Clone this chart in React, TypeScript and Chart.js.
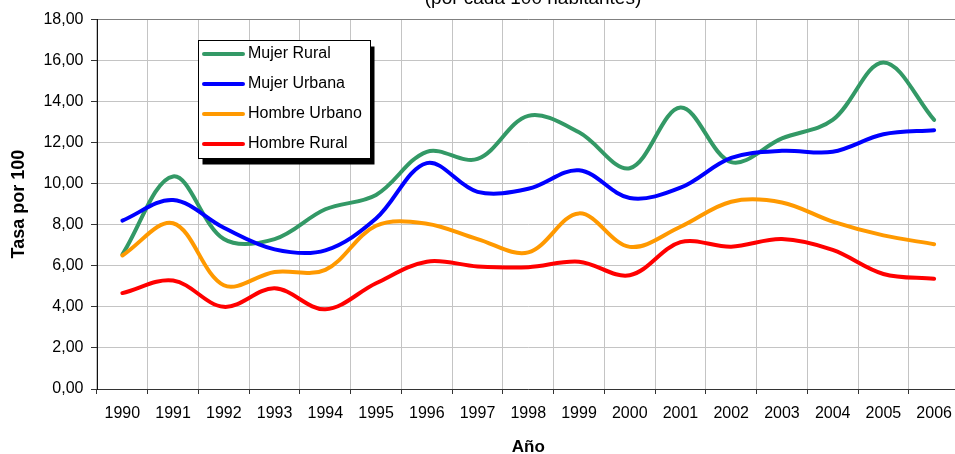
import React, { useEffect, useRef } from 'react';
import { Chart, registerables } from 'chart.js';

Chart.register(...registerables);

// ---- Data ----
const YEARS = ['1990', '1991', '1992', '1993', '1994', '1995', '1996', '1997', '1998', '1999', '2000', '2001', '2002', '2003', '2004', '2005', '2006'];
const MUJER_RURAL = [6.55, 10.35, 7.3, 7.3, 8.75, 9.45, 11.55, 11.2, 13.3, 12.5, 10.75, 13.7, 11.05, 12.2, 13.1, 15.9, 13.1];
const MUJER_URBANA = [8.2, 9.2, 7.85, 6.8, 6.75, 8.3, 11.0, 9.6, 9.75, 10.65, 9.3, 9.8, 11.25, 11.6, 11.55, 12.4, 12.6];
const HOMBRE_URBANO = [6.5, 8.07, 5.05, 5.7, 5.8, 7.95, 8.05, 7.3, 6.65, 8.55, 6.92, 7.9, 9.12, 9.08, 8.15, 7.48, 7.05];
const HOMBRE_RURAL = [4.67, 5.28, 4.0, 4.9, 3.88, 5.15, 6.2, 5.97, 5.93, 6.2, 5.54, 7.15, 6.93, 7.3, 6.77, 5.6, 5.37];
const SERIES_NAMES = ['Mujer Rural', 'Mujer Urbana', 'Hombre Urbano', 'Hombre Rural'];
const Y_MIN = 0;
const Y_MAX = 18;
const Y_STEP = 2;
const TITLE = '(por cada 100 habitantes)';
const Y_TITLE = 'Tasa por 100';
const X_TITLE = 'Año';

const COLORS = ['#339966', '#0000FF', '#FF9900', '#FF0000'];
const FONT = '"Liberation Sans", Arial, Helvetica, sans-serif';

const titlePlugin = {
  id: 'cutTitle',
  afterDraw(chart: any) {
    const ctx = chart.ctx;
    ctx.save();
    ctx.fillStyle = '#000';
    ctx.font = `19px ${FONT}`;
    ctx.textAlign = 'center';
    ctx.textBaseline = 'alphabetic';
    ctx.fillText(TITLE, 533, 4);
    ctx.restore();
  },
};

const boxLegendPlugin = {
  id: 'boxLegend',
  afterDraw(chart: any) {
    const ctx = chart.ctx;
    const x = 198.5, y = 40.5, w = 172, h = 118;
    ctx.save();
    ctx.fillStyle = '#000';
    ctx.fillRect(x + 4, y + 6, w, h);
    ctx.fillStyle = '#fff';
    ctx.fillRect(x, y, w, h);
    ctx.strokeStyle = '#000';
    ctx.lineWidth = 1;
    ctx.strokeRect(x, y, w, h);
    chart.data.datasets.forEach((ds: any, i: number) => {
      const cy = 54 + i * 30;
      ctx.strokeStyle = ds.borderColor;
      ctx.lineWidth = 4;
      ctx.lineCap = 'round';
      ctx.beginPath();
      ctx.moveTo(204, cy);
      ctx.lineTo(243, cy);
      ctx.stroke();
      ctx.fillStyle = '#000';
      ctx.font = `16px ${FONT}`;
      ctx.textAlign = 'left';
      ctx.textBaseline = 'middle';
      ctx.fillText(ds.label, 248, cy);
    });
    ctx.restore();
  },
};

export default function App() {
  const canvasRef = useRef<HTMLCanvasElement | null>(null);

  useEffect(() => {
    const canvas = canvasRef.current;
    if (!canvas) return;
    const seriesValues = [MUJER_RURAL, MUJER_URBANA, HOMBRE_URBANO, HOMBRE_RURAL];
    const chart = new Chart(canvas, {
      type: 'line',
      data: {
        labels: YEARS,
        datasets: seriesValues.map((vals, i) => ({
          label: SERIES_NAMES[i],
          data: vals,
          borderColor: COLORS[i],
          backgroundColor: COLORS[i],
          borderWidth: 4,
          pointRadius: 0,
          pointHoverRadius: 0,
          tension: 0.35,
          fill: false,
          borderCapStyle: 'round',
          borderJoinStyle: 'round',
          order: seriesValues.length - i,
        })),
      },
      options: {
        animation: false,
        responsive: false,
        devicePixelRatio: 1,
        events: [],
        layout: { padding: { top: 19.3, right: 2, bottom: 0, left: 0 } },
        plugins: {
          legend: { display: false },
          title: { display: false },
          tooltip: { enabled: false },
        },
        scales: {
          x: {
            type: 'category',
            offset: true,
            grid: {
              offset: true,
              color: '#c4c4c4',
              lineWidth: 1,
              tickLength: 5,
              tickColor: '#333',
              drawTicks: true,
            },
            border: { color: '#333', width: 1 },
            ticks: {
              color: '#000',
              font: { family: FONT, size: 16 },
              padding: 10,
              maxRotation: 0,
              autoSkip: false,
            },
            title: {
              display: true,
              text: X_TITLE,
              color: '#000',
              font: { family: FONT, size: 17, weight: 'bold', lineHeight: 1 },
              padding: { top: 0, bottom: -1.5 },
            },
            afterFit: (scale: any) => {
              scale.height = 65;
            },
          },
          y: {
            min: Y_MIN,
            max: Y_MAX,
            grid: {
              color: (c: any) => (c.tick && c.tick.value === Y_MAX ? '#808080' : '#c4c4c4'),
              lineWidth: 1,
              tickLength: 6,
              tickColor: '#333',
            },
            border: { color: '#111', width: 1 },
            ticks: {
              stepSize: Y_STEP,
              color: '#000',
              font: { family: FONT, size: 16 },
              padding: 7.5,
              callback: (v: any) => Number(v).toFixed(2).replace('.', ','),
            },
            title: {
              display: true,
              text: Y_TITLE,
              color: '#000',
              font: { family: FONT, size: 18, weight: 'bold', lineHeight: 1 },
              padding: { top: 10.5, bottom: 0 },
            },
            afterFit: (scale: any) => {
              scale.width = 97;
            },
          },
        },
      },
      plugins: [titlePlugin, boxLegendPlugin],
    } as any);
    return () => chart.destroy();
  }, []);

  return (
    <div
      style={{
        position: 'fixed',
        left: 0,
        top: 0,
        width: 955,
        height: 454,
        overflow: 'hidden',
        background: '#fff',
      }}
    >
      <canvas ref={canvasRef} width={962} height={454} style={{ display: 'block', width: 962, height: 454 }} />
    </div>
  );
}
